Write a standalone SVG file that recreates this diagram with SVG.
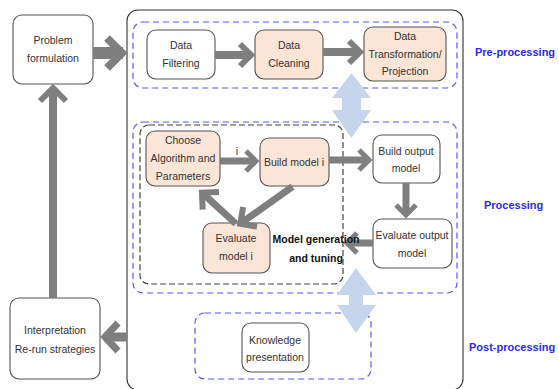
<svg xmlns="http://www.w3.org/2000/svg" width="559" height="389" viewBox="0 0 559 389">
<style>
.node rect{stroke:#555;stroke-width:1.1}
.w{fill:#fff}
.p{fill:#fbe5d6}
.t{font-family:"Liberation Sans",Arial,sans-serif;font-size:10.5px;fill:#333;text-anchor:middle}
.b{font-family:"Liberation Sans",Arial,sans-serif;font-size:10.5px;font-weight:bold;fill:#111;text-anchor:middle}
.lab{font-family:"Liberation Sans",Arial,sans-serif;font-size:11px;font-weight:bold;fill:#2b2bf0}
.dashb{fill:none;stroke:#5555ff;stroke-width:1.2;stroke-dasharray:6 4}
.dashk{fill:none;stroke:#444;stroke-width:1.2;stroke-dasharray:6 3}
.ar path{fill:none;stroke:#7f7f7f;stroke-linejoin:miter}
.dbl{fill:#c5d6ec}
</style>
<rect width="559" height="389" fill="#fff"/>
<!-- main container -->
<rect x="127" y="10" width="336" height="380" rx="11" fill="none" stroke="#333" stroke-width="1.1"/>
<!-- stage boxes -->
<rect class="dashb" x="133" y="22" width="324" height="66" rx="10"/>
<rect class="dashb" x="133" y="122" width="324" height="171" rx="10"/>
<rect class="dashb" x="195" y="313" width="176" height="66" rx="10"/>
<rect class="dashk" x="140" y="125" width="203" height="159" rx="9"/>

<g id="problem" class="node"><rect class="w" x="13" y="15" width="80" height="69" rx="9"/>
<text class="t" x="53" y="44">Problem</text><text class="t" x="53" y="62">formulation</text></g>
<g id="filtering" class="node"><rect class="w" x="147" y="30" width="68" height="49" rx="9"/>
<text class="t" x="181" y="49">Data</text><text class="t" x="181" y="67">Filtering</text></g>
<g id="cleaning" class="node"><rect class="p" x="255" y="30" width="68" height="49" rx="9"/>
<text class="t" x="289" y="49">Data</text><text class="t" x="289" y="67">Cleaning</text></g>
<g id="transformation" class="node"><rect class="p" x="364" y="27" width="82" height="54" rx="9"/>
<text class="t" x="405" y="40">Data</text><text class="t" x="405" y="58">Transformation/</text><text class="t" x="405" y="75">Projection</text></g>
<g id="choose" class="node"><rect class="p" x="146" y="131" width="74" height="55" rx="9"/>
<text class="t" x="183" y="144">Choose</text><text class="t" x="183" y="162">Algorithm and</text><text class="t" x="183" y="180">Parameters</text></g>
<g id="buildi" class="node"><rect class="p" x="260" y="138" width="69" height="48" rx="9"/>
<text class="t" x="294" y="166">Build model i</text></g>
<g id="evali" class="node"><rect class="p" x="203" y="223" width="67" height="50" rx="9"/>
<text class="t" x="236" y="242">Evaluate</text><text class="t" x="236" y="260">model i</text></g>
<g id="buildout" class="node"><rect class="w" x="373" y="135" width="67" height="48" rx="9"/>
<text class="t" x="406" y="155">Build output</text><text class="t" x="406" y="172">model</text></g>
<g id="evalout" class="node"><rect class="w" x="373" y="219" width="79" height="49" rx="9"/>
<text class="t" x="412" y="239">Evaluate output</text><text class="t" x="412" y="257">model</text></g>
<g id="knowledge" class="node"><rect class="w" x="242" y="323" width="67" height="49" rx="9"/>
<text class="t" x="275" y="344">Knowledge</text><text class="t" x="275" y="361">presentation</text></g>
<g id="interpretation" class="node"><rect class="w" x="10" y="298" width="90" height="81" rx="9"/>
<text class="t" x="55" y="334">Interpretation</text><text class="t" x="55" y="353">Re-run strategies</text></g>

<g id="connectors" class="ar">
<g transform="translate(127,53)"><path d="M-34,0H-4" stroke-width="12"/><path d="M-20,-15L-5,0L-20,15" stroke-width="8"/></g>
<g transform="translate(255,55)"><path d="M-40,0H-4" stroke-width="8"/><path d="M-15,-11L-4,0L-15,11" stroke-width="6"/></g>
<g transform="translate(364,52)"><path d="M-41,0H-4" stroke-width="8"/><path d="M-15,-11L-4,0L-15,11" stroke-width="6"/></g>
<g transform="translate(260,161)"><path d="M-40,0H-4" stroke-width="7"/><path d="M-14,-10L-4,0L-14,10" stroke-width="5"/></g>
<g transform="translate(373,160)"><path d="M-44,0H-4" stroke-width="7"/><path d="M-14,-10L-4,0L-14,10" stroke-width="5"/></g>
<g transform="translate(406,219) rotate(90)"><path d="M-36,0H-4" stroke-width="7"/><path d="M-14,-10L-4,0L-14,10" stroke-width="5"/></g>
<g transform="translate(343,243) rotate(180)"><path d="M-30,0H-4" stroke-width="7"/><path d="M-14,-10L-4,0L-14,10" stroke-width="5"/></g>
<g transform="translate(237,226) rotate(144.7)"><path d="M-68,0H-4" stroke-width="7"/><path d="M-16,-12L-4,0L-16,12" stroke-width="6"/></g>
<g transform="translate(199,190) rotate(222.5)"><path d="M-50,0H-4" stroke-width="7"/><path d="M-16,-12L-4,0L-16,12" stroke-width="6"/></g>
<g transform="translate(100,337) rotate(180)"><path d="M-27,0H-4" stroke-width="9"/><path d="M-18,-14L-5,0L-18,14" stroke-width="7"/></g>
<g transform="translate(53,84) rotate(-90)"><path d="M-214,0H-4" stroke-width="8"/><path d="M-17,-13L-4,0L-17,13" stroke-width="6"/></g>
</g>
<polygon class="dbl" points="351.5,73 371,98 361,98 361,110 371,110 351.5,138 332,110 342,110 342,98 332,98"/>
<polygon class="dbl" points="356,268 376,295 363,295 363,305 376,305 356,333 337,305 349,305 349,295 337,295"/>

<text class="t" x="237" y="155">i</text>
<text class="b" x="316" y="243">Model generation</text>
<text class="b" x="316" y="262">and tuning</text>
<text class="lab" x="475" y="56">Pre-processing</text>
<text class="lab" x="484" y="209">Processing</text>
<text class="lab" x="469" y="351">Post-processing</text>
</svg>
